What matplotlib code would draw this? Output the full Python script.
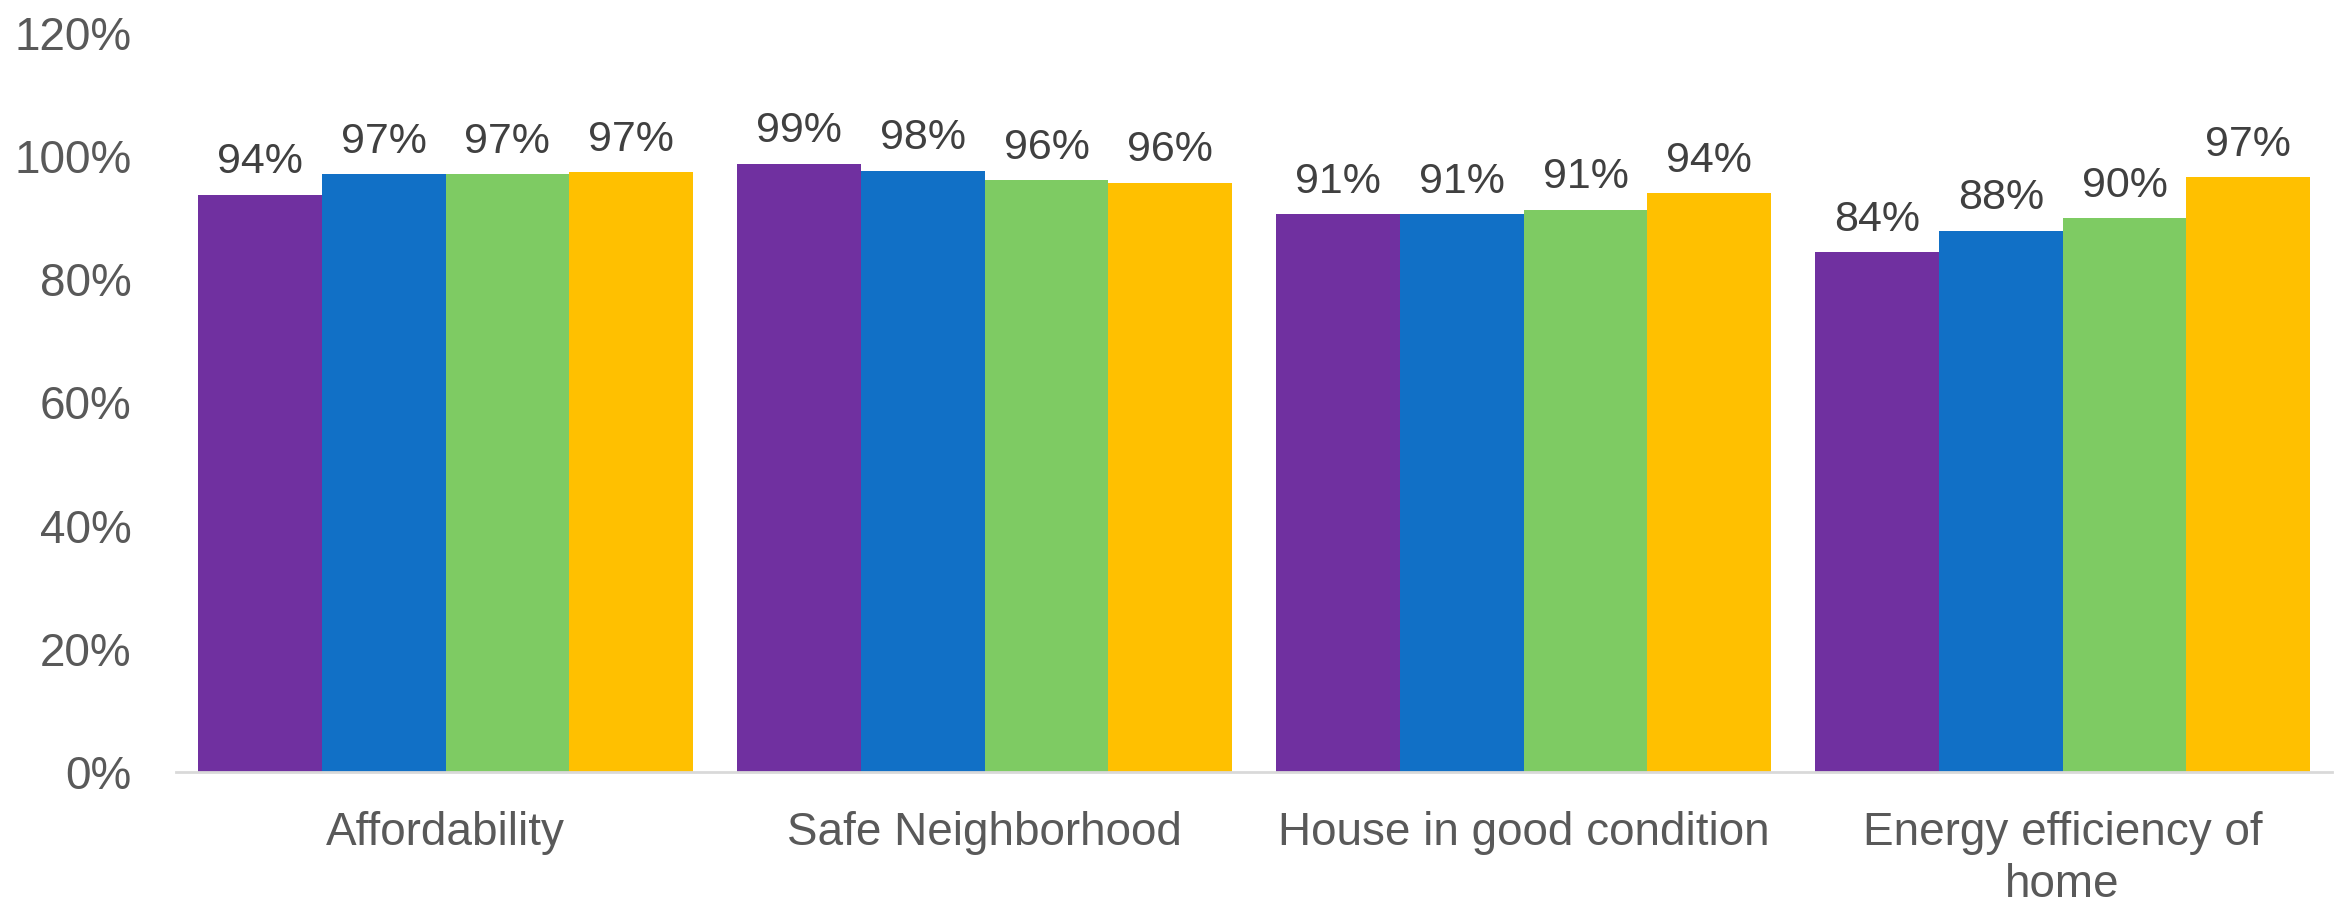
import numpy as np
import matplotlib.pyplot as plt
from matplotlib.ticker import PercentFormatter

plt.rcParams['font.family'] = ['Liberation Sans', 'DejaVu Sans']

# Share of respondents rating each housing aspect (fractions)
categories = ['Affordability', 'Safe Neighborhood', 'House in good condition',
              'Energy efficiency of\nhome']
series_1 = [0.937, 0.988, 0.906, 0.844]
series_2 = [0.971, 0.976, 0.906, 0.879]
series_3 = [0.971, 0.961, 0.913, 0.899]
series_4 = [0.974, 0.957, 0.940, 0.966]
y_ticks = [0.0, 0.2, 0.4, 0.6, 0.8, 1.0, 1.2]

colors = ['#7030A0', '#1170C6', '#7ECB63', '#FFC000']
all_series = [series_1, series_2, series_3, series_4]

fig = plt.figure(figsize=(23.41, 9.05), dpi=100)
ax = fig.add_axes([0.0752, 0.147, 0.921, 0.8165])

x = np.arange(len(categories))
width = 0.2296
for i, (vals, col) in enumerate(zip(all_series, colors)):
    pos = x + (i - 1.5) * width
    bars = ax.bar(pos, vals, width=width, color=col, linewidth=0)
    ax.bar_label(bars, labels=[f'{v:.0%}' for v in vals], padding=9,
                 fontsize=31, color='#404040')

ax.set_xlim(-0.5, 3.5)
ax.set_ylim(0, 1.2)
ax.set_yticks(y_ticks)
ax.yaxis.set_major_formatter(PercentFormatter(1.0, decimals=0))
ax.set_xticks(x)
ax.set_xticklabels(categories, linespacing=1.25)

ax.tick_params(axis='y', length=0, pad=32, labelsize=33, labelcolor='#595959')
ax.tick_params(axis='x', length=0, pad=28, labelsize=33, labelcolor='#595959')

for side in ['top', 'right', 'left']:
    ax.spines[side].set_visible(False)
ax.spines['bottom'].set_color('#D9D9D9')
ax.spines['bottom'].set_linewidth(2)

fig.savefig('out.png', dpi=100)
